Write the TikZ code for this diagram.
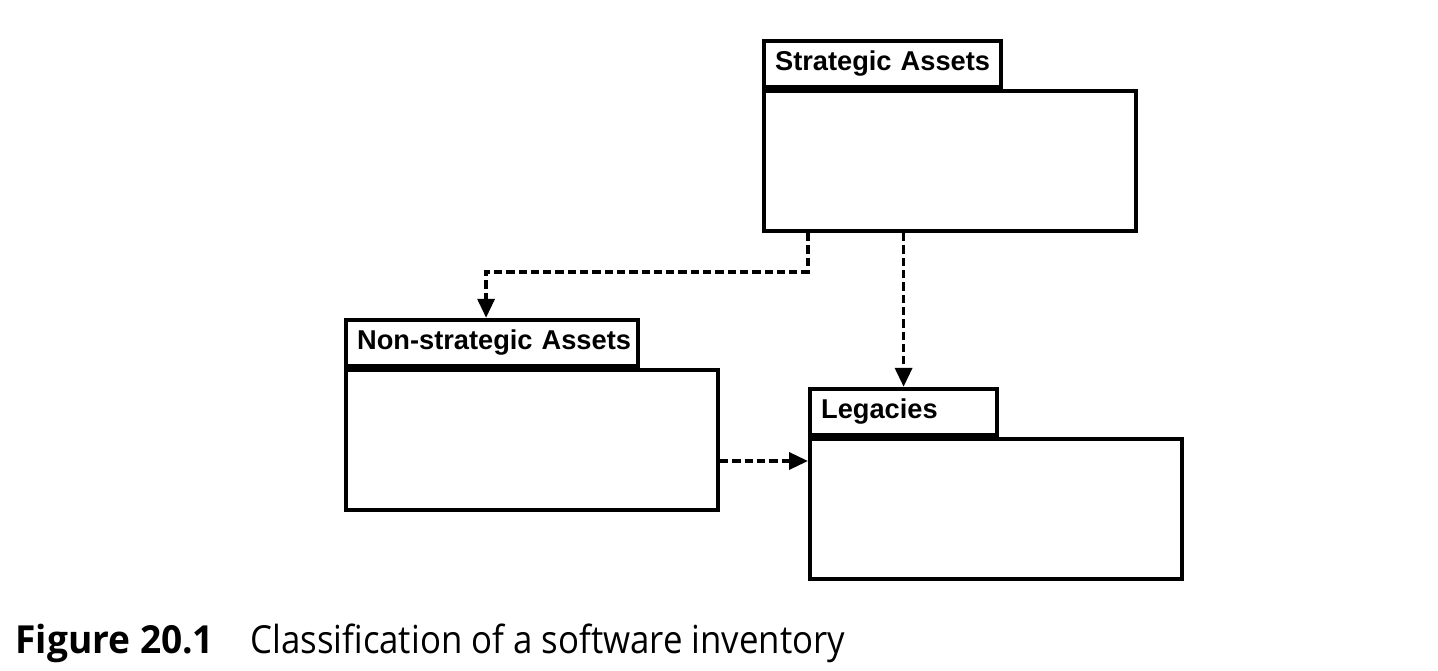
\documentclass[tikz,border=0pt]{standalone}
\usepackage{fontspec}
\setmainfont{Liberation Sans}
\newfontfamily\capfont[FakeStretch=0.9]{Open Sans}
\newfontfamily\capbold[FakeStretch=0.96]{Open Sans Bold}
\usetikzlibrary{positioning,arrows.meta}
\tikzset{
  pkgbody/.style={draw, line width=2.4pt, minimum width=7.44cm, minimum height=2.8cm, anchor=north west, inner sep=0pt},
  pkgtab/.style={draw, line width=2.4pt, minimum height=0.92cm, inner xsep=0.22cm, inner ysep=0pt, align=left, font=\fontsize{15.5}{15.5}\selectfont\bfseries},
  flow/.style={line width=2pt, dash pattern=on 4.7pt off 2.3pt, -{Triangle[length=0.38cm,width=0.34cm]}},
}
\begin{document}
\begin{tikzpicture}[x=0.02cm, y=-0.02cm, line join=miter]
  \useasboundingbox (0,0) rectangle (1438,670);
  % package bodies
  \node[pkgbody] (sa) at (762,89) {};
  \node[pkgbody] (ns) at (344,368) {};
  \node[pkgbody] (leg) at (808,437) {};
  % tabs
  \node[pkgtab, text width=4.30cm, above right=0pt of sa.north west, anchor=south west] (satab) {\mbox{Strategic Assets}};
  \node[pkgtab, text width=5.40cm, above right=0pt of ns.north west, anchor=south west] (nstab) {\mbox{Non-strategic Assets}};
  \node[pkgtab, text width=3.30cm, above right=0pt of leg.north west, anchor=south west] (legtab) {\mbox{Legacies}};
  % dependencies
  \coordinate (legin) at ([yshift=-0.48cm]leg.north west);
  \coordinate (nsin) at ([xshift=-0.12cm]nstab.north);
  \draw[flow] ([xshift=0.92cm]sa.south west) |- ([yshift=0.92cm]nsin) -- (nsin);
  \draw[flow] (legtab.north |- sa.south) -- (legtab.north);
  \draw[flow] (legin -| ns.east) -- (legin);
  % caption
  \node[anchor=base west, inner sep=0pt, font=\capbold\fontsize{22}{22}\selectfont] (fignum) at (15,653) {Figure 20.1};
  \node[anchor=base west, inner sep=0pt, font=\capfont\fontsize{22}{22}\selectfont] (figcap) at (250,653) {Classification of a software inventory};
\end{tikzpicture}
\end{document}
